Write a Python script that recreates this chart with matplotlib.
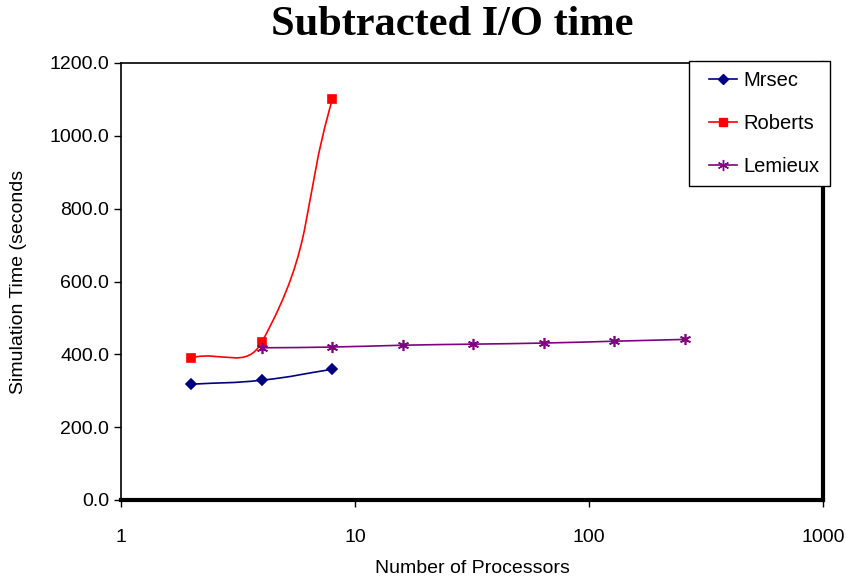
import numpy as np
import matplotlib.pyplot as plt
from matplotlib.path import Path
from matplotlib.patches import PathPatch
from matplotlib.legend_handler import HandlerLine2D

# processor counts and simulation times (seconds)
mrsec_procs = [2, 4, 8]
mrsec_times = [318, 329, 359]

roberts_procs = [2, 4, 8]
roberts_times = [391, 434, 1100]

lemieux_procs = [4, 8, 16, 32, 64, 128, 256]
lemieux_times = [418, 420, 425, 428, 431, 436, 441]

y_ticks = [0, 200, 400, 600, 800, 1000, 1200]
x_ticks = [1, 10, 100, 1000]

# plot area in pixels
AX_W, AX_H = 823 - 121, 500 - 63
XMIN, XMAX, YMIN, YMAX = 1, 1000, 0, 1200


def to_px(x, y):
    px = (np.log10(x) - np.log10(XMIN)) / (np.log10(XMAX) - np.log10(XMIN)) * AX_W
    py = (y - YMIN) / (YMAX - YMIN) * AX_H
    return np.array([px, py])


def from_px(p):
    lx = p[0] / AX_W * (np.log10(XMAX) - np.log10(XMIN)) + np.log10(XMIN)
    return 10 ** lx, p[1] / AX_H * (YMAX - YMIN) + YMIN


def smooth_path(xs, ys, arm=0.45):
    # Excel-like smoothed line: bezier segments, control arm length tied to segment length
    pts = [to_px(x, y) for x, y in zip(xs, ys)]
    n = len(pts)
    verts = [(xs[0], ys[0])]
    codes = [Path.MOVETO]
    for i in range(n - 1):
        p0, p1 = pts[max(i - 1, 0)], pts[i]
        p2, p3 = pts[i + 1], pts[min(i + 2, n - 1)]
        seg = np.linalg.norm(p2 - p1)
        d1 = p2 - p0
        d2 = p3 - p1
        c1 = p1 + d1 / np.linalg.norm(d1) * seg * arm
        c2 = p2 - d2 / np.linalg.norm(d2) * seg * arm
        verts += [from_px(c1), from_px(c2), (xs[i + 1], ys[i + 1])]
        codes += [Path.CURVE4] * 3
    return Path(verts, codes)


fig = plt.figure(figsize=(8.46, 5.8), dpi=100)
ax = fig.add_axes([121 / 846, 1 - 500 / 580, AX_W / 846, AX_H / 580])
ax.set_xscale('log')
ax.set_xlim(XMIN, XMAX)
ax.set_ylim(YMIN, YMAX)

series = [
    (mrsec_procs, mrsec_times, '#000080', 'D', 5, 'Mrsec'),
    (roberts_procs, roberts_times, '#FF0000', 's', 6, 'Roberts'),
    (lemieux_procs, lemieux_times, '#800080', (6, 2, 0), 8, 'Lemieux'),
]
for xs, ys, c, m, ms, name in series:
    ax.add_patch(PathPatch(smooth_path(xs, ys), facecolor='none', edgecolor=c, lw=1.2))
    ax.plot(xs, ys, linestyle='none', marker=m, color=c, markersize=ms,
            markeredgewidth=1.2)
    ax.plot([], [], color=c, marker=m, markersize=ms, lw=1.2, label=name)

ax.set_yticks(y_ticks)
ax.set_yticklabels([f'{v:.1f}' for v in y_ticks])
ax.set_xticks(x_ticks)
ax.set_xticklabels([str(v) for v in x_ticks])
ax.xaxis.set_minor_locator(plt.NullLocator())
ax.tick_params(axis='both', direction='out', length=5, width=1, labelsize=14,
               labelfontfamily='Liberation Sans')
ax.tick_params(axis='x', pad=16)

for side in ['left', 'top']:
    ax.spines[side].set_linewidth(1.2)
for side in ['right', 'bottom']:
    ax.spines[side].set_linewidth(3)

ax.set_xlabel('Number of Processors', fontsize=14, family='Liberation Sans', labelpad=10)
ax.set_ylabel('Simulation Time (seconds', fontsize=14, family='Liberation Sans', labelpad=16)
fig.text(452 / 846, 1 - 25 / 580, 'Subtracted I/O time', fontsize=30.5, fontweight='bold',
         family='Liberation Serif', ha='center', va='center')

leg = ax.legend(loc='upper left', bbox_to_anchor=(689 / 846, 1 - 61 / 580),
                bbox_transform=fig.transFigure, frameon=True, fancybox=False,
                prop={'family': 'Liberation Sans', 'size': 14.5}, borderaxespad=0,
                labelspacing=1.2, handlelength=1.9, borderpad=0.5,
                handletextpad=0.3,
                handler_map={plt.Line2D: HandlerLine2D(xpad=0.5)})
leg.get_frame().set_edgecolor('black')
leg.get_frame().set_linewidth(1)
leg.get_frame().set_alpha(1)
leg.set_zorder(10)

plt.savefig('out.png', dpi=100)
